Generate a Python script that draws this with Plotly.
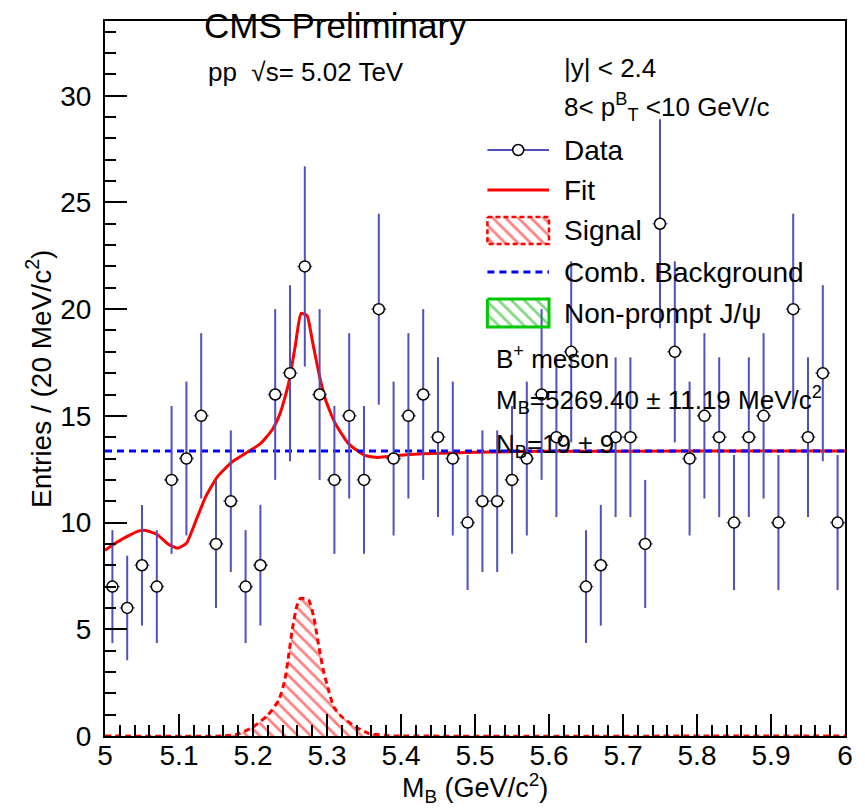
import numpy as np
import plotly.graph_objects as go

# ---------------- data ----------------
bin_centers = [5.01, 5.03, 5.05, 5.07, 5.09, 5.11, 5.13, 5.15, 5.17, 5.19,
               5.21, 5.23, 5.25, 5.27, 5.29, 5.31, 5.33, 5.35, 5.37, 5.39,
               5.41, 5.43, 5.45, 5.47, 5.49, 5.51, 5.53, 5.55, 5.57, 5.59,
               5.61, 5.63, 5.65, 5.67, 5.69, 5.71, 5.73, 5.75, 5.77, 5.79,
               5.81, 5.83, 5.85, 5.87, 5.89, 5.91, 5.93, 5.95, 5.97, 5.99]
counts = [7, 6, 8, 7, 12, 13, 15, 9, 11, 7,
          8, 16, 17, 22, 16, 12, 15, 12, 20, 13,
          15, 16, 14, 13, 10, 11, 11, 12, 13, 16,
          14, 18, 7, 8, 14, 14, 9, 24, 18, 13,
          15, 14, 10, 14, 15, 10, 20, 14, 17, 10]
count_err = np.sqrt(counts)
bin_half_width = 0.01

fit_x = [5.000, 5.015, 5.030, 5.045, 5.055, 5.070, 5.085, 5.098, 5.110, 5.123,
         5.136, 5.152, 5.172, 5.195, 5.210, 5.226, 5.237, 5.248, 5.257, 5.265,
         5.273, 5.280, 5.289, 5.298, 5.311, 5.329, 5.351, 5.369, 5.392, 5.430,
         5.500, 5.600, 5.800, 6.000]
fit_y = [8.70, 9.05, 9.35, 9.60, 9.63, 9.45, 9.00, 8.80, 9.03, 10.10,
         11.20, 12.15, 12.85, 13.35, 13.70, 14.35, 15.15, 16.50, 18.25, 19.80,
         19.70, 18.55, 17.00, 15.75, 14.65, 13.70, 13.15, 13.05, 13.13, 13.22,
         13.30, 13.34, 13.35, 13.35]

sig_x = [5.000, 5.160, 5.180, 5.200, 5.220, 5.235, 5.243, 5.248, 5.253, 5.259,
         5.264, 5.275, 5.282, 5.289, 5.295, 5.302, 5.309, 5.320, 5.338, 5.356,
         5.380, 5.400, 6.000]
sig_y = [0.00, 0.00, 0.09, 0.42, 0.98, 1.69, 2.63, 3.72, 4.97, 6.06,
         6.45, 6.38, 5.59, 4.19, 3.09, 2.16, 1.37, 0.90, 0.44, 0.13,
         0.02, 0.00, 0.00]

bkg_x = [5.0, 6.0]
bkg_y = [13.35, 13.35]

x_ticks = [5.0, 5.1, 5.2, 5.3, 5.4, 5.5, 5.6, 5.7, 5.8, 5.9, 6.0]
x_tick_labels = ["5", "5.1", "5.2", "5.3", "5.4", "5.5", "5.6", "5.7", "5.8", "5.9", "6"]
y_ticks = [0, 5, 10, 15, 20, 25, 30]
y_tick_labels = ["0", "5", "10", "15", "20", "25", "30"]

# ---------------- style ----------------
FONT = "Liberation Sans, Arial, Helvetica, sans-serif"
ERR_COLOR = "rgb(80,80,190)"
W, H = 865, 808
L, R, T, B = 105, 850, 21, 736   # plot area in pixels
HATCH = dict(shape="\\", bgcolor="rgba(0,0,0,0)", size=9, solidity=0.3)

fig = go.Figure()

# fit
fig.add_trace(go.Scatter(x=fit_x, y=fit_y, mode="lines",
                         line=dict(color="red", width=3, shape="spline", smoothing=0.5),
                         showlegend=False, hoverinfo="skip"))
# signal
fig.add_trace(go.Scatter(x=sig_x, y=sig_y, mode="lines", fill="tozeroy",
                         fillcolor="rgba(0,0,0,0)",
                         fillpattern=dict(HATCH, fgcolor="red"),
                         line=dict(color="red", width=3, dash="6px,4px", shape="spline", smoothing=0.5),
                         showlegend=False, hoverinfo="skip"))
# combinatorial background
fig.add_trace(go.Scatter(x=bkg_x, y=bkg_y, mode="lines",
                         line=dict(color="blue", width=3, dash="7px,5px"),
                         showlegend=False, hoverinfo="skip"))
# data
fig.add_trace(go.Scatter(x=bin_centers, y=counts, mode="markers",
                         marker=dict(symbol="circle", size=11, color="white",
                                     line=dict(color="black", width=1.5)),
                         error_y=dict(type="data", array=count_err, color=ERR_COLOR,
                                      thickness=2, width=0),
                         error_x=dict(type="constant", value=bin_half_width, color=ERR_COLOR,
                                      thickness=1.5, width=0),
                         showlegend=False, hoverinfo="skip"))

# ---------------- legend (drawn on a pixel-coordinate overlay axis) ----------------
lx0, lx1 = 490, 552
fig.add_trace(go.Scatter(x=[lx0, lx1], y=[150, 150], xaxis="x2", yaxis="y2", mode="lines",
                         line=dict(color=ERR_COLOR, width=2), showlegend=False, hoverinfo="skip"))
fig.add_trace(go.Scatter(x=[(lx0 + lx1) / 2], y=[150], xaxis="x2", yaxis="y2", mode="markers",
                         marker=dict(symbol="circle", size=11, color="white",
                                     line=dict(color="black", width=1.5)),
                         showlegend=False, hoverinfo="skip"))
fig.add_trace(go.Scatter(x=[lx0, lx1], y=[190, 190], xaxis="x2", yaxis="y2", mode="lines",
                         line=dict(color="red", width=3), showlegend=False, hoverinfo="skip"))
fig.add_trace(go.Scatter(x=[lx0, lx1, lx1, lx0, lx0], y=[217, 217, 244, 244, 217],
                         xaxis="x2", yaxis="y2", mode="lines", fill="toself",
                         fillcolor="rgba(0,0,0,0)",
                         fillpattern=dict(HATCH, fgcolor="red"),
                         line=dict(color="red", width=2.5, dash="5px,3px"),
                         showlegend=False, hoverinfo="skip"))
fig.add_trace(go.Scatter(x=[lx0, lx1], y=[272, 272], xaxis="x2", yaxis="y2", mode="lines",
                         line=dict(color="blue", width=3, dash="7px,5px"),
                         showlegend=False, hoverinfo="skip"))
fig.add_trace(go.Scatter(x=[lx0, lx1, lx1, lx0, lx0], y=[299, 299, 327, 327, 299],
                         xaxis="x2", yaxis="y2", mode="lines", fill="toself",
                         fillcolor="rgba(0,0,0,0)",
                         fillpattern=dict(HATCH, fgcolor="#00b000"),
                         line=dict(color="#00c800", width=3),
                         showlegend=False, hoverinfo="skip"))

def txt(x, y, s, size=28, anchor="left"):
    fig.add_annotation(x=x, y=y, xref="x2", yref="y2", text=s, showarrow=False,
                       xanchor=anchor, yanchor="middle",
                       font=dict(family=FONT, size=size, color="black"))

txt(203, 25, "CMS Preliminary", size=35)
txt(207, 72, "pp  √s= 5.02 TeV", size=26)
txt(565, 68, "|y| < 2.4", size=26)
txt(565, 107, "8< p<sup>B</sup><sub>T</sub> <10 GeV/c", size=26)
txt(565, 150, "Data")
txt(565, 190, "Fit")
txt(565, 230, "Signal")
txt(565, 272, "Comb. Background")
txt(565, 313, "Non-prompt J/ψ")
txt(497, 357, "B<sup>+</sup> meson", size=26)
txt(497, 400, "M<sub>B</sub>=5269.40 ± 11.19 MeV/c<sup>2</sup>", size=26)
txt(497, 445, "N<sub>B</sub>=19 ± 9", size=26)

# axis titles
fig.add_annotation(x=(38 - L) / (R - L), y=0.5, xref="paper", yref="paper",
                   text="Entries / (20 MeV/c<sup>2</sup>)", textangle=-90, showarrow=False,
                   xanchor="center", yanchor="middle",
                   font=dict(family=FONT, size=28, color="black"))
fig.add_annotation(x=0.5, y=(B - 788) / (B - T), xref="paper", yref="paper",
                   text="M<sub>B</sub> (GeV/c<sup>2</sup>)", showarrow=False,
                   xanchor="center", yanchor="middle",
                   font=dict(family=FONT, size=27, color="black"))

fig.update_layout(
    width=W, height=H,
    margin=dict(l=L, r=W - R, t=T, b=H - B, pad=0),
    paper_bgcolor="white", plot_bgcolor="white",
    showlegend=False,
    font=dict(family=FONT, size=28, color="black"),
    xaxis=dict(range=[5.0, 6.0], tickmode="array", tickvals=x_ticks, ticktext=x_tick_labels,
               ticks="inside", ticklen=22, tickwidth=1.5, tickcolor="black",
               minor=dict(dtick=0.02, tick0=5.0, ticks="inside", ticklen=11,
                          tickwidth=1.5, tickcolor="black", showgrid=False),
               showline=True, linecolor="black", linewidth=2, mirror=True,
               showgrid=False, zeroline=False, ticklabelstandoff=-7,
               tickfont=dict(family=FONT, size=28, color="black")),
    yaxis=dict(range=[0, 33.5], tickmode="array", tickvals=y_ticks, ticktext=y_tick_labels,
               ticks="inside", ticklen=22, tickwidth=1.5, tickcolor="black",
               minor=dict(dtick=1, tick0=0, ticks="inside", ticklen=11,
                          tickwidth=1.5, tickcolor="black", showgrid=False),
               showline=True, linecolor="black", linewidth=2, mirror=True,
               showgrid=False, zeroline=False, ticklabelstandoff=6,
               tickfont=dict(family=FONT, size=28, color="black")),
    xaxis2=dict(overlaying="x", range=[L, R], visible=False, fixedrange=True),
    yaxis2=dict(overlaying="y", range=[B, T], visible=False, fixedrange=True),
)

fig.write_html("out.html")
